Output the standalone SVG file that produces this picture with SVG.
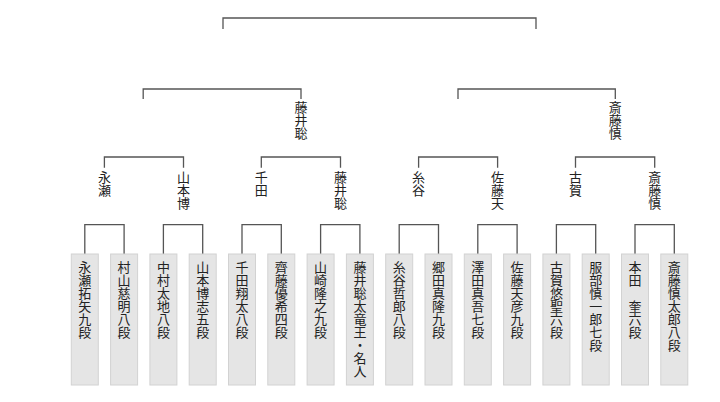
<svg xmlns="http://www.w3.org/2000/svg" width="720" height="402" viewBox="0 0 720 402">
<style>
.ln{fill:none;stroke:#555;stroke-width:1.3}
.bx{fill:#e5e5e5;stroke:#d2d2d2;stroke-width:1}
.t{font-family:"Noto Sans CJK JP","Noto Sans CJK SC",sans-serif;font-size:13px;fill:#222;writing-mode:vertical-rl;text-orientation:upright;letter-spacing:0}
</style>
<rect width="720" height="402" fill="#fff"/>
<g id="connectors">
<path class="ln" d="M223,29V18H536V29"/>
<path class="ln" d="M143.2,99V89H301V99"/>
<path class="ln" d="M458,99V89H615.3V99"/>
<path class="ln" d="M104.4,167.7V157H183.5V167.7"/>
<path class="ln" d="M261.3,167.7V157H340.5V167.7"/>
<path class="ln" d="M418.6,167.7V157H497.6V167.7"/>
<path class="ln" d="M575.5,167.7V157H654.7V167.7"/>
<path class="ln" d="M84.8,254V224.7H124.1V254"/>
<path class="ln" d="M163.4,254V224.7H202.7V254"/>
<path class="ln" d="M242,254V224.7H281.3V254"/>
<path class="ln" d="M320.6,254V224.7H359.9V254"/>
<path class="ln" d="M399.2,254V224.7H438.5V254"/>
<path class="ln" d="M477.8,254V224.7H517.1V254"/>
<path class="ln" d="M556.4,254V224.7H595.7V254"/>
<path class="ln" d="M635,254V224.7H674.3V254"/>
</g>
<g id="semi-left"><text class="t" x="301" y="101">藤井聡</text></g>
<g id="semi-right"><text class="t" x="615.3" y="101">斎藤慎</text></g>
<g id="q1"><text class="t" x="104.4" y="171">永瀬</text></g>
<g id="q2"><text class="t" x="183.5" y="171">山本博</text></g>
<g id="q3"><text class="t" x="261.3" y="171">千田</text></g>
<g id="q4"><text class="t" x="340.5" y="171">藤井聡</text></g>
<g id="q5"><text class="t" x="418.6" y="171">糸谷</text></g>
<g id="q6"><text class="t" x="497.6" y="171">佐藤天</text></g>
<g id="q7"><text class="t" x="575.5" y="171">古賀</text></g>
<g id="q8"><text class="t" x="654.7" y="171">斎藤慎</text></g>
<g id="p1"><rect class="bx" x="71.3" y="254" width="27" height="131"/><text class="t" x="84.8" y="261">永瀬拓矢九段</text></g>
<g id="p2"><rect class="bx" x="110.6" y="254" width="27" height="131"/><text class="t" x="124.1" y="261">村山慈明八段</text></g>
<g id="p3"><rect class="bx" x="149.9" y="254" width="27" height="131"/><text class="t" x="163.4" y="261">中村太地八段</text></g>
<g id="p4"><rect class="bx" x="189.2" y="254" width="27" height="131"/><text class="t" x="202.7" y="261">山本博志五段</text></g>
<g id="p5"><rect class="bx" x="228.5" y="254" width="27" height="131"/><text class="t" x="242" y="261">千田翔太八段</text></g>
<g id="p6"><rect class="bx" x="267.8" y="254" width="27" height="131"/><text class="t" x="281.3" y="261">齊藤優希四段</text></g>
<g id="p7"><rect class="bx" x="307.1" y="254" width="27" height="131"/><text class="t" x="320.6" y="261">山崎隆之九段</text></g>
<g id="p8"><rect class="bx" x="346.4" y="254" width="27" height="131"/><text class="t" x="359.9" y="261">藤井聡太竜王・名人</text></g>
<g id="p9"><rect class="bx" x="385.7" y="254" width="27" height="131"/><text class="t" x="399.2" y="261">糸谷哲郎八段</text></g>
<g id="p10"><rect class="bx" x="425" y="254" width="27" height="131"/><text class="t" x="438.5" y="261">郷田真隆九段</text></g>
<g id="p11"><rect class="bx" x="464.3" y="254" width="27" height="131"/><text class="t" x="477.8" y="261">澤田真吾七段</text></g>
<g id="p12"><rect class="bx" x="503.6" y="254" width="27" height="131"/><text class="t" x="517.1" y="261">佐藤天彦九段</text></g>
<g id="p13"><rect class="bx" x="542.9" y="254" width="27" height="131"/><text class="t" x="556.4" y="261">古賀悠聖六段</text></g>
<g id="p14"><rect class="bx" x="582.2" y="254" width="27" height="131"/><text class="t" x="595.7" y="261">服部慎一郎七段</text></g>
<g id="p15"><rect class="bx" x="621.5" y="254" width="27" height="131"/><text class="t" x="635" y="261">本田　奎六段</text></g>
<g id="p16"><rect class="bx" x="660.8" y="254" width="27" height="131"/><text class="t" x="674.3" y="261">斎藤慎太郎八段</text></g>
</svg>
